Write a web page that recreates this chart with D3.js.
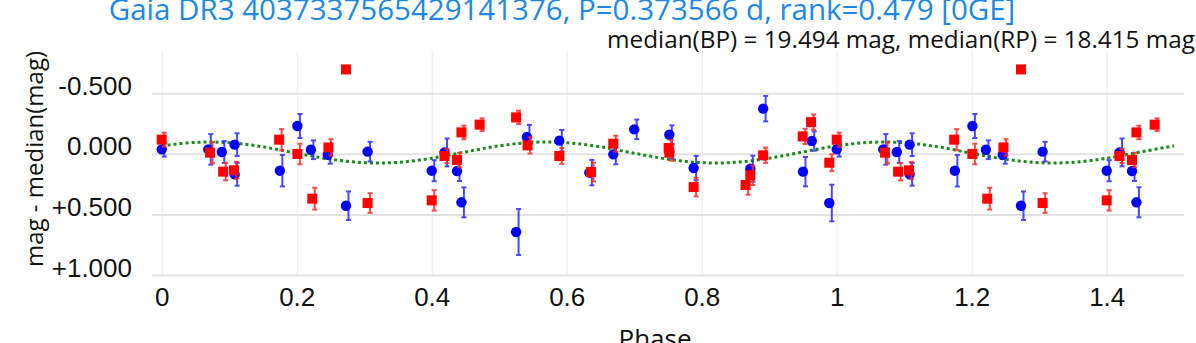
<!DOCTYPE html>
<html>
<head>
<meta charset="utf-8">
<script src="https://cdn.jsdelivr.net/npm/d3@7"></script>
<style>
  html, body { margin: 0; padding: 0; background: #fff; }
  svg { display: block; font-family: "Open Sans", "Noto Sans", sans-serif; }
</style>
</head>
<body>
<svg id="chart" width="1196" height="343"></svg>
<script>
// phase-folded light curve (phase in [0,1), shown again at +1)
const bpPhase = [0.000, 0.069, 0.089, 0.108, 0.108, 0.175, 0.201, 0.221, 0.246, 0.273,
                 0.305, 0.400, 0.419, 0.4375, 0.444, 0.525, 0.541, 0.589, 0.6335, 0.669,
                 0.700, 0.752, 0.752, 0.788, 0.872, 0.891, 0.950, 0.963, 0.989];
const bpMag   = [-0.037, -0.037, -0.015, -0.076, 0.169, 0.139, -0.230, -0.034, 0.007, 0.428,
                 -0.018, 0.139, -0.012, 0.142, 0.400, 0.645, -0.139, -0.109, 0.155, 0.004,
                 -0.202, -0.158, -0.020, 0.117, 0.122, -0.373, 0.147, -0.106, 0.406];
const bpErr   = [0.060, 0.126, 0.090, 0.094, 0.094, 0.130, 0.099, 0.077, 0.074, 0.118,
                 0.081, 0.087, 0.115, 0.082, 0.124, 0.190, 0.100, 0.088, 0.105, 0.082,
                 0.081, 0.077, 0.060, 0.100, 0.107, 0.105, 0.121, 0.080, 0.151];

const rpPhase = [0.000, 0.0716, 0.091, 0.107, 0.174, 0.201, 0.223, 0.247, 0.273, 0.305,
                 0.400, 0.419, 0.4375, 0.444, 0.471, 0.525, 0.542, 0.589, 0.636, 0.669,
                 0.751, 0.752, 0.788, 0.865, 0.872, 0.891, 0.9496, 0.962, 0.989];
const rpMag   = [-0.117, -0.010, 0.147, 0.136, -0.117, 0.001, 0.370, -0.053, -0.697, 0.406,
                 0.384, 0.018, 0.051, -0.177, -0.241, -0.301, -0.070, 0.018, 0.150, -0.084,
                 -0.048, -0.010, 0.274, 0.257, 0.177, 0.012, -0.144, -0.262, 0.073];
const rpErr   = [0.058, 0.088, 0.072, 0.070, 0.087, 0.085, 0.090, 0.068, 0.000, 0.081,
                 0.084, 0.058, 0.060, 0.056, 0.052, 0.055, 0.067, 0.065, 0.078, 0.066,
                 0.066, 0.066, 0.077, 0.080, 0.080, 0.063, 0.063, 0.063, 0.069];

// model curve, sampled every 0.05 in phase
const modelPhase = d3.range(31).map(i => i * 0.05);
const modelMag = [-0.066, -0.095, -0.092, -0.058, -0.005, 0.044, 0.073, 0.070, 0.036, -0.016,
                  -0.066, -0.095, -0.092, -0.058, -0.005, 0.044, 0.073, 0.070, 0.036, -0.016,
                  -0.066, -0.095, -0.092, -0.058, -0.005, 0.044, 0.073, 0.070, 0.036, -0.016,
                  -0.066];

const xTicks = [0, 0.2, 0.4, 0.6, 0.8, 1, 1.2, 1.4];
const xTickLabels = ["0", "0.2", "0.4", "0.6", "0.8", "1", "1.2", "1.4"];
const yTicks = [-0.5, 0, 0.5, 1.0];
const yTickLabels = ["-0.500", "0.000", "+0.500", "+1.000"];

const TITLE = "Gaia DR3 4037337565429141376, P=0.373566 d, rank=0.479 [0GE]";
const SUBTITLE = "median(BP) = 19.494 mag, median(RP) = 18.415 mag";

/* ── layout ─────────────────────────────── */
const W = 1196, H = 343;
const plot = { left: 152, right: 1184, top: 51, bottom: 275 };

const x = d3.scaleLinear().domain([-0.0144, 1.5145]).range([plot.left, plot.right]);
const y = d3.scaleLinear().domain([-0.849, 1.0]).range([plot.top, plot.bottom]);

const svg = d3.select("#chart");

// fold: every point is drawn at its phase and again one cycle later, up to 1.5
function fold(ph, mag, err) {
  const out = [];
  ph.forEach((p, i) => {
    out.push({ p, m: mag[i], e: err[i] });
    if (p + 1 <= 1.5) out.push({ p: p + 1, m: mag[i], e: err[i] });
  });
  return out;
}
const bp = fold(bpPhase, bpMag, bpErr);
const rp = fold(rpPhase, rpMag, rpErr);

/* ── grid + axes ─────────────────────────── */
const gx = svg.append("g")
  .attr("transform", `translate(0,${plot.bottom})`)
  .call(d3.axisBottom(x).tickValues(xTicks)
    .tickSize(-(plot.bottom - plot.top))
    .tickFormat((d, i) => xTickLabels[i]));
gx.select(".domain").remove();
gx.selectAll(".tick line").attr("stroke", "#ebebeb").attr("stroke-width", 1);
gx.selectAll(".tick text")
  .attr("fill", "#111").attr("font-size", 26)
  .attr("y", 31).attr("dy", null);

const gy = svg.append("g")
  .attr("transform", `translate(${plot.left},0)`)
  .call(d3.axisLeft(y).tickValues(yTicks)
    .tickSize(-(plot.right - plot.left))
    .tickFormat((d, i) => yTickLabels[i]));
gy.select(".domain").remove();
gy.selectAll(".tick line").attr("stroke", "#e2e2e2").attr("stroke-width", 2);
gy.selectAll(".tick text")
  .attr("fill", "#111").attr("font-size", 26)
  .attr("x", -20).attr("dy", null).attr("y", 1);

/* ── model curve ─────────────────────────── */
const line = d3.line()
  .x((d, i) => x(modelPhase[i]))
  .y(d => y(d))
  .curve(d3.curveCatmullRom);

svg.append("path")
  .datum(modelMag)
  .attr("fill", "none")
  .attr("stroke", "#1a8a1a")
  .attr("stroke-width", 3)
  .attr("stroke-dasharray", "3,3")
  .attr("d", line);

/* ── error bars + markers ────────────────── */
function errorBars(data, colour) {
  const g = svg.append("g").attr("stroke", colour).attr("stroke-width", 2).attr("opacity", 0.85);
  data.filter(d => d.e > 0).forEach(d => {
    const cx = x(d.p) + 2.5;
    const y0 = y(d.m - d.e), y1 = y(d.m + d.e);
    g.append("line").attr("x1", cx).attr("x2", cx).attr("y1", y0).attr("y2", y1);
    g.append("line").attr("x1", cx - 2.5).attr("x2", cx + 2.5).attr("y1", y0).attr("y2", y0);
    g.append("line").attr("x1", cx - 2.5).attr("x2", cx + 2.5).attr("y1", y1).attr("y2", y1);
  });
}

errorBars(bp, "#2a2aff");
svg.append("g").selectAll("circle")
  .data(bp).join("circle")
  .attr("cx", d => x(d.p)).attr("cy", d => y(d.m))
  .attr("r", 5.2).attr("fill", "#0000ff");

errorBars(rp, "#ff2a2a");
svg.append("g").selectAll("rect")
  .data(rp).join("rect")
  .attr("x", d => x(d.p) - 5).attr("y", d => y(d.m) - 5)
  .attr("width", 10).attr("height", 10).attr("fill", "#ff0000");

/* ── texts ───────────────────────────────── */
svg.append("text")
  .attr("x", 562).attr("y", 20)
  .attr("text-anchor", "middle")
  .attr("font-size", 29.5).attr("fill", "#1e88e5")
  .text(TITLE);

svg.append("text")
  .attr("x", 1195).attr("y", 48)
  .attr("text-anchor", "end")
  .attr("font-size", 24.3).attr("fill", "#111")
  .text(SUBTITLE);

svg.append("text")
  .attr("x", 655).attr("y", 348)
  .attr("text-anchor", "middle")
  .attr("font-size", 26).attr("fill", "#111")
  .text("Phase");

svg.append("text")
  .attr("transform", `translate(43,159) rotate(-90)`)
  .attr("text-anchor", "middle")
  .attr("font-size", 24).attr("fill", "#111")
  .text("mag - median(mag)");
</script>
</body>
</html>
